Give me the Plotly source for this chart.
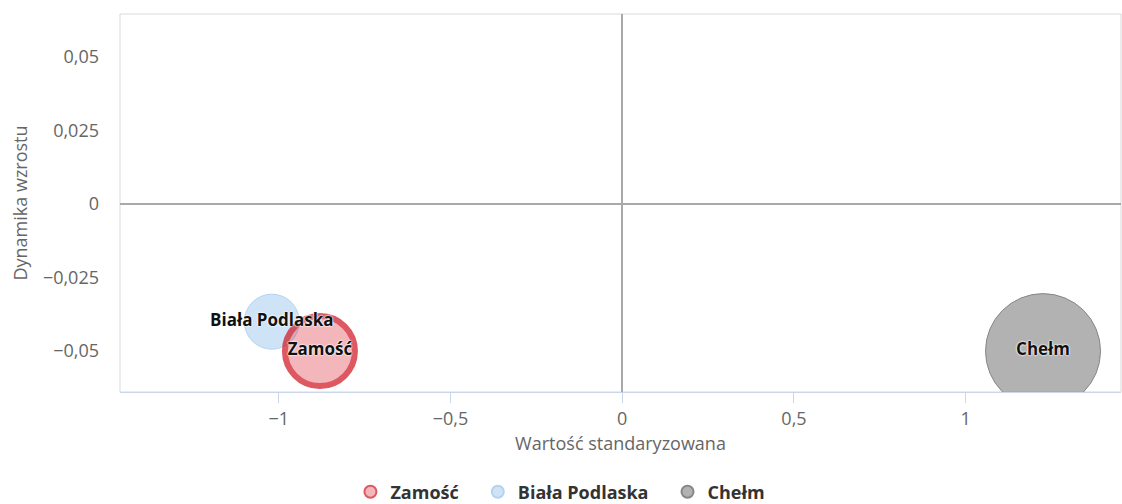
import plotly.graph_objects as go

# ---- data ----
names = ["Zamość", "Biała Podlaska", "Chełm"]
x_std = [-0.88, -1.02, 1.225]          # Wartość standaryzowana
y_dyn = [-0.05, -0.04, -0.05]          # Dynamika wzrostu
bubble = [70, 55, 115]                 # bubble size (relative)
y_ticks = [0.05, 0.025, 0, -0.025, -0.05]
y_tick_labels = ["0,05", "0,025", "0", "−0,025", "−0,05"]
x_ticks = [-1, -0.5, 0, 0.5, 1]
x_tick_labels = ["−1", "−0,5", "0", "0,5", "1"]

fills = ["rgba(226,70,80,0.55)", "rgba(160,200,240,0.7)", "rgba(140,140,142,0.95)"]
lines = ["rgb(208,18,30)", "rgb(150,192,236)", "rgb(85,85,85)"]
lwidths = [6, 1, 1]
ranks = [1, 2, 3]
legend_pad = ["\u00a0\u00a0\u00a0", "\u00a0\u00a0\u00a0", ""]
draw_order = [1, 0, 2]   # Biała below Zamość

FONT = "Open Sans"

fig = go.Figure()
for i in draw_order:
    fig.add_trace(go.Scatter(
        x=[x_std[i]], y=[y_dyn[i]], mode="markers", name=names[i] + legend_pad[i],
        legendrank=ranks[i],
        marker=dict(size=[bubble[i]], sizemode="diameter", sizeref=1,
                    color=fills[i], line=dict(color=lines[i], width=lwidths[i])),
        hoverinfo="name",
    ))
for i in draw_order:
    fig.add_trace(go.Scatter(
        x=[x_std[i]], y=[y_dyn[i]], mode="text", text=[names[i]],
        textposition="middle center", showlegend=False, hoverinfo="skip",
        textfont=dict(family=FONT, size=17, color="#111", weight="bold",
                      shadow="0px 0px 2px #fff, 0px 0px 2px #fff, 0px 0px 1px #fff"),
    ))

fig.add_shape(type="rect", xref="paper", yref="paper", x0=0, x1=1, y0=0, y1=1,
              line=dict(color="#d9d9d9", width=1), layer="below")

fig.update_layout(
    width=1122, height=504, autosize=False,
    margin=dict(l=120, r=1, t=14, b=112, autoexpand=False),
    paper_bgcolor="white", plot_bgcolor="white",
    font=dict(family=FONT, color="#666"),
    showlegend=True,
    legend=dict(orientation="h", x=0.44, xanchor="center",
                y=-0.2646, yanchor="middle",
                font=dict(family=FONT, size=18, color="#333", weight="bold"),
                itemsizing="constant"),
    xaxis=dict(range=[-1.462, 1.452], showgrid=False,
               zeroline=True, zerolinecolor="#a9a9a9", zerolinewidth=2,
               showline=True, linecolor="#ccd6eb", linewidth=1,
               ticks="outside", ticklen=10, tickcolor="#ccd6eb",
               tickvals=x_ticks, ticktext=x_tick_labels,
               tickfont=dict(size=18, color="#666"),
               title=dict(text="Wartość standaryzowana", font=dict(size=18, color="#666"), standoff=8)),
    yaxis=dict(range=[-0.0639, 0.0646], showgrid=False,
               zeroline=True, zerolinecolor="#a9a9a9", zerolinewidth=2,
               showline=False, ticks="",
               tickvals=y_ticks, ticktext=y_tick_labels, ticklabelstandoff=20,
               tickfont=dict(size=18, color="#666"),
               title=dict(text="Dynamika wzrostu", font=dict(size=18, color="#666"), standoff=10)),
)

fig.write_html("out.html", config={"displayModeBar": False},
               post_script="document.body.style.margin='0';document.body.style.overflow='hidden';")
